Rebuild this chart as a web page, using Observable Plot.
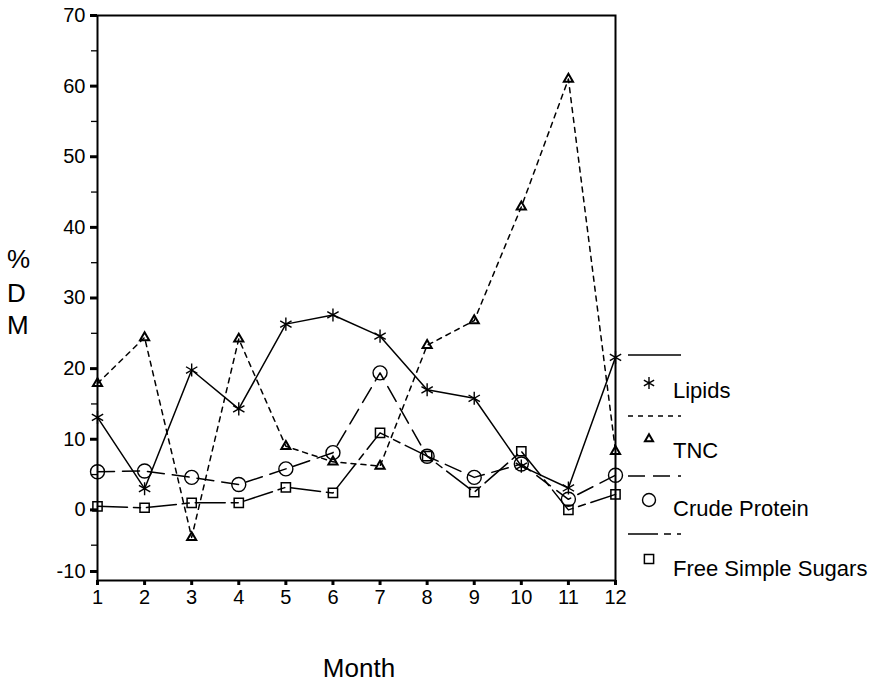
<!DOCTYPE html>
<html>
<head>
<meta charset="utf-8">
<script src="https://cdn.jsdelivr.net/npm/d3@7"></script>
<script src="https://cdn.jsdelivr.net/npm/@observablehq/plot@0.6"></script>
<style>
  html, body { margin: 0; padding: 0; background: #fff; }
  #wrap { position: relative; width: 871px; height: 683px; font-family: "Liberation Sans", Arial, sans-serif; }
  #wrap svg { position: absolute; left: 0; top: 0; }
  .lab { position: absolute; font-family: "Liberation Sans", Arial, sans-serif; color: #000; line-height: 1; }
</style>
</head>
<body>
<div id="wrap"></div>
<script>
const months = [1, 2, 3, 4, 5, 6, 7, 8, 9, 10, 11, 12];
const lipids = [13.1, 3.0, 19.8, 14.3, 26.3, 27.6, 24.6, 17.0, 15.8, 6.2, 3.1, 21.6];
const tnc = [17.9, 24.4, -3.9, 24.2, 9.0, 6.8, 6.2, 23.3, 26.8, 42.9, 61.0, 8.3];
const protein = [5.4, 5.5, 4.6, 3.6, 5.8, 8.1, 19.4, 7.6, 4.6, 6.5, 1.5, 4.9];
const sugars = [0.5, 0.3, 1.0, 1.0, 3.2, 2.4, 10.9, 7.6, 2.5, 8.3, 0.0, 2.2];
const seriesNames = ["Lipids", "TNC", "Crude Protein", "Free Simple Sugars"];
const yMajorTicks = [0, 10, 20, 30, 40, 50, 60, 70];
const yBottomTick = [-10];
const yMinorTicks = [-5, 5, 15, 25, 35, 45, 55, 65];

const values = [lipids, tnc, protein, sugars];
const styles = {
  "Lipids": {dash: null, symbol: "asterisk", r: 6.2, sw: 1.4},
  "TNC": {dash: "5,5", symbol: "triangle", r: 3.4, sw: 2},
  "Crude Protein": {dash: "17,8", symbol: "circle", r: 7, sw: 1.4},
  "Free Simple Sugars": {dash: "30,6,7,6", symbol: "square", r: 5.2, sw: 1.5}
};

const rows = [];
seriesNames.forEach((s, i) => months.forEach((m, j) => rows.push({series: s, month: m, value: values[i][j]})));

const marks = [];
for (const s of seriesNames) {
  const st = styles[s];
  const d = rows.filter(r => r.series === s);
  marks.push(Plot.line(d, {x: "month", y: "value", stroke: "black", strokeWidth: 1.5, strokeDasharray: st.dash}));
}
for (const s of seriesNames) {
  const st = styles[s];
  const d = rows.filter(r => r.series === s);
  marks.push(Plot.dot(d, {x: "month", y: "value", symbol: () => st.symbol, r: st.r, stroke: "black", strokeWidth: st.sw, fill: "none"}));
}

const fmt = d => String(d);
const chart = Plot.plot({
  width: 871,
  height: 683,
  marginLeft: 97,
  marginRight: 256,
  marginTop: 15,
  marginBottom: 103,
  style: {fontFamily: "Liberation Sans, Arial, sans-serif", fontSize: "20px", background: "transparent", color: "black"},
  x: {domain: [1, 12]},
  y: {domain: [-10, 70]},
  symbol: {type: "identity"},
  marks: [
    Plot.axisY({ticks: yMinorTicks, tickSize: 6, text: null, strokeWidth: 1.3, label: null}),
    Plot.axisY({ticks: yMajorTicks, tickSize: 7, tickPadding: 5, strokeWidth: 3, label: null, fontSize: 20, tickFormat: fmt}),
    Plot.axisY({ticks: yBottomTick, tickSize: 7, tickPadding: 5, strokeWidth: 3, label: null, fontSize: 20, tickFormat: fmt, dy: -9}),
    Plot.axisX({ticks: months, tickSize: 5, tickPadding: 4, strokeWidth: 3, label: null, tickFormat: fmt, fontSize: 20}),
    Plot.frame({stroke: "black", strokeWidth: 2}),
    ...marks
  ]
});
const wrap = document.getElementById("wrap");
wrap.appendChild(chart);

// Legend (right side, outside the frame)
const leg = d3.select(wrap).append("svg").attr("width", 871).attr("height", 683);
const legendRows = [
  {lineY: 355, symY: 383, textY: 390},
  {lineY: 416, symY: 439, textY: 450},
  {lineY: 476, symY: 500, textY: 508},
  {lineY: 534, symY: 559, textY: 568}
];
const symMap = {asterisk: d3.symbolAsterisk, triangle: d3.symbolTriangle, circle: d3.symbolCircle, square: d3.symbolSquare};
const legSize = {"Lipids": 5.6, "TNC": 3.0, "Crude Protein": 6.5, "Free Simple Sugars": 5.2};
seriesNames.forEach((s, i) => {
  const st = styles[s], L = legendRows[i];
  leg.append("line").attr("x1", 628).attr("x2", 681).attr("y1", L.lineY).attr("y2", L.lineY)
    .attr("stroke", "black").attr("stroke-width", 1.5).attr("stroke-dasharray", st.dash);
  const r = legSize[s];
  leg.append("path").attr("d", d3.symbol(symMap[st.symbol], r * r * Math.PI)())
    .attr("transform", `translate(649,${L.symY})`).attr("fill", "none").attr("stroke", "black").attr("stroke-width", st.sw);
  leg.append("text").attr("x", 673).attr("y", L.textY).attr("dy", "0.35em")
    .attr("font-family", "Liberation Sans, Arial, sans-serif").attr("font-size", 22).text(s);
});

// Axis titles
const yl = ["%", "D", "M"];
const ylBase = [268, 302, 334];
yl.forEach((c, i) => {
  const t = leg.append("text").attr("x", 7).attr("y", ylBase[i])
    .attr("font-family", "Liberation Sans, Arial, sans-serif").attr("font-size", 26).text(c);
});
leg.append("text").attr("x", 359).attr("y", 677).attr("text-anchor", "middle")
  .attr("font-family", "Liberation Sans, Arial, sans-serif").attr("font-size", 26).text("Month");
</script>
</body>
</html>
